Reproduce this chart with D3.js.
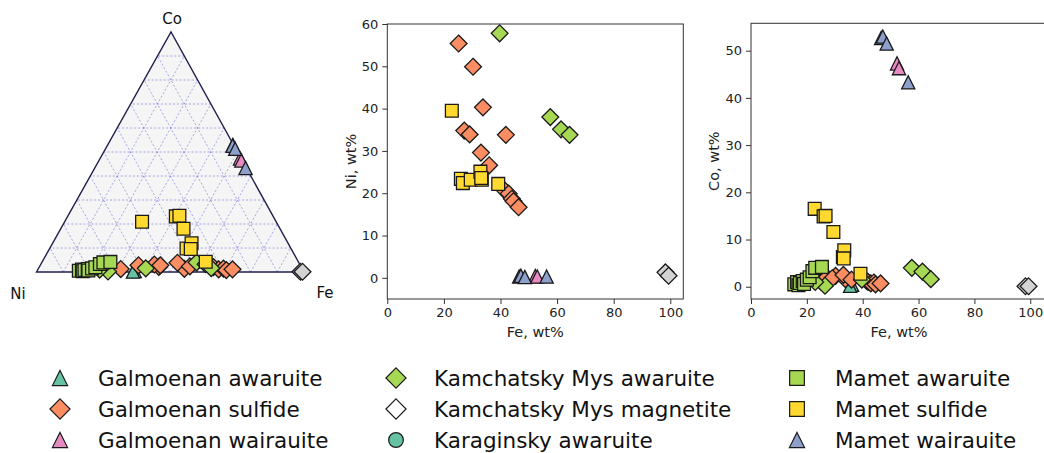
<!DOCTYPE html>
<html><head><meta charset="utf-8">
<script src="https://cdn.jsdelivr.net/npm/d3@7"></script>
<style>
body{margin:0;background:#fff}
svg{display:block;font-family:"DejaVu Sans",sans-serif}
</style>
</head><body>
<svg id="chart" width="1044" height="453"></svg>
<script>
// Compositions in wt%, each point is [Fe, Ni, Co]
const galmoenanAwaruite = [[36.2, 62.5, 0.4], [35.5, 63.0, 0.2]];
const galmoenanSulfide = [
  [25.2, 55.4, 1.0], [30.3, 49.9, 2.3], [33.8, 40.3, 1.6], [27.2, 34.8, 2.0],
  [29.1, 33.9, 1.8], [41.9, 33.8, 1.0], [33.1, 29.6, 2.5], [36.0, 26.6, 1.5],
  [41.3, 20.8, 1.3], [42.9, 19.9, 0.7], [44.0, 18.7, 0.9], [44.6, 18.1, 0.5],
  [46.4, 16.7, 0.7]
];
const galmoenanWairauite = [[52.3, 0.4, 47.3], [53.0, 0.3, 46.3]];
const kamchatskyAwaruite = [
  [39.7, 57.8, 1.5], [57.6, 38.0, 4.0], [61.4, 35.1, 3.2], [64.4, 33.8, 1.6],
  [26.5, 72.8, 0.2], [23.0, 75.5, 1.0]
];
const kamchatskyMagnetite = [[98.3, 1.3, 0.1], [99.4, 0.5, 0.1]];
const karaginskyAwaruite = [[19.0, 80.2, 0.5], [20.5, 78.0, 1.4]];
const mametAwaruite = [
  [15.5, 83.5, 0.5], [16.5, 82.5, 1.0], [17.0, 82.2, 0.3], [17.5, 81.5, 0.8],
  [18.5, 80.0, 1.2], [19.0, 80.0, 0.6], [20.0, 78.5, 1.5], [21.0, 77.0, 2.0],
  [22.0, 74.5, 3.3], [23.0, 73.0, 4.0], [25.4, 70.0, 4.2]
];
const mametSulfide = [
  [22.8, 39.5, 16.5], [26.0, 23.4, 14.9], [26.7, 22.4, 15.0], [29.5, 23.2, 11.6],
  [32.9, 25.1, 6.3], [33.4, 23.2, 7.7], [33.2, 23.6, 6.0], [39.2, 22.2, 2.75]
];
const mametWairauite = [[46.6, 0.3, 52.7], [47.2, 0.5, 53.0], [48.6, 0.2, 51.5], [56.3, 0.3, 43.3]];

const seriesNames = [
  "Galmoenan awaruite", "Galmoenan sulfide", "Galmoenan wairauite",
  "Kamchatsky Mys awaruite", "Kamchatsky Mys magnetite", "Karaginsky awaruite",
  "Mamet awaruite", "Mamet sulfide", "Mamet wairauite"
];
const seriesData = [
  galmoenanAwaruite, galmoenanSulfide, galmoenanWairauite,
  kamchatskyAwaruite, kamchatskyMagnetite, karaginskyAwaruite,
  mametAwaruite, mametSulfide, mametWairauite
];
const seriesMarkers = ["triangle", "diamond", "triangle", "diamond", "diamond", "circle", "square", "square", "triangle"];
const seriesColors = ["#66c2a5", "#fc8d62", "#e78ac3", "#a6d854", "#d3d3d3", "#66c2a5", "#a6d854", "#ffd92f", "#8da0cb"];
const legendColors = ["#66c2a5", "#fc8d62", "#e78ac3", "#a6d854", "#ffffff", "#66c2a5", "#a6d854", "#ffd92f", "#8da0cb"];

const feTicks = [0, 20, 40, 60, 80, 100];
const niTicks = [0, 10, 20, 30, 40, 50, 60];
const coTicks = [0, 10, 20, 30, 40, 50];
const gridFractions = [0.1, 0.2, 0.3, 0.4, 0.5, 0.6, 0.7, 0.8, 0.9];

const svg = d3.select("#chart");
const EDGE = "#1a1a1a";

// marker outlines, centred on 0,0
function markerPath(type, scale) {
  const p = d3.path();
  if (type === "diamond") {
    const d = 8.4 * scale;
    p.moveTo(0, -d); p.lineTo(d, 0); p.lineTo(0, d); p.lineTo(-d, 0); p.closePath();
  } else if (type === "square") {
    const h = 6.4 * scale;
    p.rect(-h, -h, 2 * h, 2 * h);
  } else if (type === "triangle") {
    const h = 6.6 * scale;
    p.moveTo(0, -h); p.lineTo(h, h); p.lineTo(-h, h); p.closePath();
  } else {
    p.arc(0, 0, 6.4 * scale, 0, 2 * Math.PI);
  }
  return p.toString();
}

function drawMarkers(g, pts, type, fill, scale) {
  g.selectAll(null).data(pts).join("path")
    .attr("d", markerPath(type, scale))
    .attr("transform", d => `translate(${d[0]},${d[1]})`)
    .attr("fill", fill)
    .attr("stroke", EDGE)
    .attr("stroke-width", 1.3)
    .attr("stroke-linejoin", "miter");
}

// ---------- ternary diagram (Ni – Fe – Co) ----------
const niC = [36.5, 272], feC = [304, 272], coC = [171, 32];
function ternXY(fe, ni, co) {
  const s = fe + ni + co, a = fe / s, c = co / s;
  return [niC[0] + a * (feC[0] - niC[0]) + c * (coC[0] - niC[0]),
          niC[1] + a * (feC[1] - niC[1]) + c * (coC[1] - niC[1])];
}
const tern = svg.append("g");
tern.append("path")
  .attr("d", d3.line()([niC, feC, coC]) + "Z")
  .attr("fill", "#f5f5f5");
const gridG = tern.append("g")
  .attr("stroke", "#5a5ad6").attr("stroke-width", 0.7)
  .attr("stroke-dasharray", "2,2").attr("stroke-opacity", 0.75).attr("fill", "none");
gridFractions.forEach(f => {
  // constant Co
  gridG.append("line").datum([ternXY(1 - f, 0, f), ternXY(0, 1 - f, f)])
    .attr("x1", d => d[0][0]).attr("y1", d => d[0][1]).attr("x2", d => d[1][0]).attr("y2", d => d[1][1]);
  // constant Fe
  gridG.append("line").datum([ternXY(f, 1 - f, 0), ternXY(f, 0, 1 - f)])
    .attr("x1", d => d[0][0]).attr("y1", d => d[0][1]).attr("x2", d => d[1][0]).attr("y2", d => d[1][1]);
  // constant Ni
  gridG.append("line").datum([ternXY(1 - f, f, 0), ternXY(0, f, 1 - f)])
    .attr("x1", d => d[0][0]).attr("y1", d => d[0][1]).attr("x2", d => d[1][0]).attr("y2", d => d[1][1]);
});
tern.append("path")
  .attr("d", d3.line()([niC, feC, coC]) + "Z")
  .attr("fill", "none").attr("stroke", "#20204f").attr("stroke-width", 1.4);
seriesData.forEach((pts, i) => {
  drawMarkers(tern.append("g"), pts.map(p => ternXY(p[0], p[1], p[2])), seriesMarkers[i], seriesColors[i], 1.0);
});
const ternLabels = [["Co", 172, 24], ["Ni", 18, 299], ["Fe", 325, 298]];
tern.selectAll(null).data(ternLabels).join("text")
  .attr("x", d => d[1]).attr("y", d => d[2]).attr("text-anchor", "middle")
  .attr("font-size", 15).attr("fill", "#111").text(d => d[0]);

// ---------- Cartesian panels ----------
function panel(opts) {
  const { left, right, top, bottom, xDomain, yDomain, yTicks, yIndex, yLabel, yLabelX, clipId } = opts;
  const x = d3.scaleLinear().domain(xDomain).range([left, right]);
  const y = d3.scaleLinear().domain(yDomain).range([bottom, top]);
  const g = svg.append("g");
  g.append("clipPath").attr("id", clipId).append("rect")
    .attr("x", left).attr("y", top).attr("width", right - left).attr("height", bottom - top);
  const marks = g.append("g").attr("clip-path", `url(#${clipId})`);
  seriesData.forEach((pts, i) => {
    drawMarkers(marks.append("g"), pts.map(p => [x(p[0]), y(p[yIndex])]), seriesMarkers[i], seriesColors[i], 1.0);
  });
  g.append("rect").attr("x", left).attr("y", top).attr("width", right - left).attr("height", bottom - top)
    .attr("fill", "none").attr("stroke", "#333").attr("stroke-width", 1);
  const xa = g.append("g").attr("transform", `translate(0,${bottom})`)
    .call(d3.axisBottom(x).tickValues(feTicks).tickSize(5).tickPadding(4));
  const ya = g.append("g").attr("transform", `translate(${left},0)`)
    .call(d3.axisLeft(y).tickValues(yTicks).tickSize(5).tickPadding(4));
  [xa, ya].forEach(a => {
    a.attr("font-size", null).attr("font-family", null);
    a.select(".domain").remove();
    a.selectAll(".tick line").attr("stroke", "#333");
    a.selectAll(".tick text").style("font-size", "13px").attr("fill", "#222");
  });
  g.append("text").attr("x", (left + right) / 2).attr("y", 337).attr("text-anchor", "middle")
    .style("font-size", "14.5px").attr("fill", "#222").text("Fe, wt%");
  g.append("text").attr("transform", `translate(${yLabelX},${(top + bottom) / 2}) rotate(-90)`)
    .attr("text-anchor", "middle").style("font-size", "14.5px").attr("fill", "#222").text(yLabel);
}

panel({ left: 387.3, right: 683.3, top: 24, bottom: 299, xDomain: [0, 104.6], yDomain: [-5, 60],
        yTicks: niTicks, yIndex: 1, yLabel: "Ni, wt%", yLabelX: 356, clipId: "clipNi" });
panel({ left: 751, right: 1047, top: 23.3, bottom: 299, xDomain: [0, 106], yDomain: [-2.6, 55.8],
        yTicks: coTicks, yIndex: 2, yLabel: "Co, wt%", yLabelX: 719, clipId: "clipCo" });

// ---------- legend ----------
const colX = [60, 396, 797], rowY = [378, 409, 440], textDX = 38;
const legend = svg.append("g");
seriesNames.forEach((name, i) => {
  const cx = colX[Math.floor(i / 3)], cy = rowY[i % 3];
  const scale = seriesMarkers[i] === "diamond" ? 1.2 : 1.15;
  legend.append("path")
    .attr("d", markerPath(seriesMarkers[i], scale))
    .attr("transform", `translate(${cx},${cy})`)
    .attr("fill", legendColors[i]).attr("stroke", EDGE).attr("stroke-width", 1.2);
  legend.append("text").attr("x", cx + textDX).attr("y", cy + 7.5)
    .style("font-size", "21.5px").attr("fill", "#111").text(name);
});
</script>
</body></html>
